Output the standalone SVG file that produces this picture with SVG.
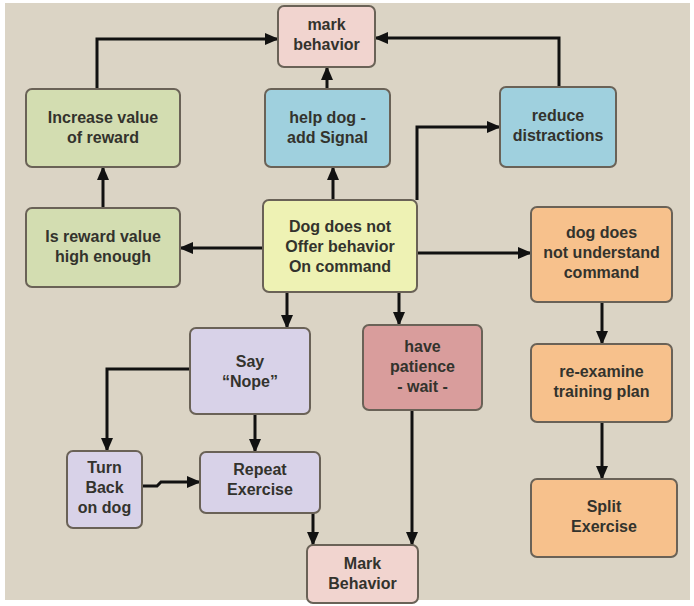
<svg xmlns="http://www.w3.org/2000/svg" width="694" height="606" viewBox="0 0 694 606">
<defs>
<marker id="ah" markerUnits="userSpaceOnUse" markerWidth="14" markerHeight="12" viewBox="0 0 14 12" refX="13" refY="6" orient="auto">
<path d="M0,0 L14,6 L0,12 z" fill="#111"/>
</marker>
<style>
.n{stroke:#6a6257;stroke-width:2}
.t{font-family:"Liberation Sans",Arial,sans-serif;font-weight:bold;font-size:16px;fill:#33332d;text-anchor:middle}
.c{fill:none;stroke:#111;stroke-width:3;marker-end:url(#ah)}
.pink{fill:#f1d4cf}.green{fill:#d3ddb1}.blue{fill:#9fd0de}.yellow{fill:#eef2b4}.orange{fill:#f7c18c}.lav{fill:#d8d2e8}.rose{fill:#d99d9c}
</style>
</defs>
<rect x="0" y="0" width="694" height="606" fill="#ffffff"/>
<rect x="5" y="3" width="685" height="597" fill="#dbd4c5"/>
<g id="connectors">
<path class="c" d="M97,89 V39 H278"/>
<path class="c" d="M559,87 V38 H375"/>
<path class="c" d="M327,89 V67"/>
<path class="c" d="M333,200 V167"/>
<path class="c" d="M417,200 V127 H500"/>
<path class="c" d="M263,248 H180"/>
<path class="c" d="M103,208 V167"/>
<path class="c" d="M417,253 H531"/>
<path class="c" d="M287,292 V328"/>
<path class="c" d="M399,292 V325"/>
<path class="c" d="M602,302 V344"/>
<path class="c" d="M602,422 V479"/>
<path class="c" d="M412,410 V545"/>
<path class="c" d="M190,369 H107 V451"/>
<path class="c" d="M255,414 V452"/>
<path class="c" d="M142,486 H157 L161,482 H200"/>
<path class="c" d="M313,513 V545"/>
</g>
<g id="mark-behavior"><rect class="n pink" x="278" y="6" width="97" height="61" rx="6"/><text class="t" x="326.5" y="30">mark</text><text class="t" x="326.5" y="50">behavior</text></g>
<g id="increase-value"><rect class="n green" x="26" y="89" width="154" height="78" rx="6"/><text class="t" x="103" y="123">Increase value</text><text class="t" x="103" y="143">of reward</text></g>
<g id="help-dog"><rect class="n blue" x="265" y="89" width="125" height="78" rx="6"/><text class="t" x="327.5" y="123">help dog -</text><text class="t" x="327.5" y="143">add Signal</text></g>
<g id="reduce-distractions"><rect class="n blue" x="500" y="87" width="116" height="80" rx="6"/><text class="t" x="558" y="121">reduce</text><text class="t" x="558" y="141">distractions</text></g>
<g id="is-reward"><rect class="n green" x="26" y="208" width="154" height="79" rx="6"/><text class="t" x="103" y="242">Is reward value</text><text class="t" x="103" y="262">high enough</text></g>
<g id="dog-does-not-offer"><rect class="n yellow" x="263" y="200" width="154" height="92" rx="6"/><text class="t" x="340" y="232">Dog does not</text><text class="t" x="340" y="252">Offer behavior</text><text class="t" x="340" y="272">On command</text></g>
<g id="not-understand"><rect class="n orange" x="531" y="207" width="141" height="95" rx="6"/><text class="t" x="601.5" y="238">dog does</text><text class="t" x="601.5" y="258">not understand</text><text class="t" x="601.5" y="278">command</text></g>
<g id="say-nope"><rect class="n lav" x="190" y="328" width="120" height="86" rx="6"/><text class="t" x="250" y="367">Say</text><text class="t" x="250" y="387">“Nope”</text></g>
<g id="have-patience"><rect class="n rose" x="363" y="325" width="119" height="85" rx="6"/><text class="t" x="422.5" y="352">have</text><text class="t" x="422.5" y="372">patience</text><text class="t" x="422.5" y="392">- wait -</text></g>
<g id="re-examine"><rect class="n orange" x="531" y="344" width="141" height="78" rx="6"/><text class="t" x="601.5" y="377">re-examine</text><text class="t" x="601.5" y="397">training plan</text></g>
<g id="turn-back"><rect class="n lav" x="67" y="451" width="75" height="77" rx="6"/><text class="t" x="104.5" y="473">Turn</text><text class="t" x="104.5" y="493">Back</text><text class="t" x="104.5" y="513">on dog</text></g>
<g id="repeat-exercise"><rect class="n lav" x="200" y="452" width="120" height="61" rx="6"/><text class="t" x="260" y="475">Repeat</text><text class="t" x="260" y="495">Exercise</text></g>
<g id="mark-behavior-2"><rect class="n pink" x="307" y="545" width="111" height="58" rx="6"/><text class="t" x="362.5" y="569">Mark</text><text class="t" x="362.5" y="589">Behavior</text></g>
<g id="split-exercise"><rect class="n orange" x="531" y="479" width="146" height="78" rx="6"/><text class="t" x="604" y="512">Split</text><text class="t" x="604" y="532">Exercise</text></g>
</svg>
